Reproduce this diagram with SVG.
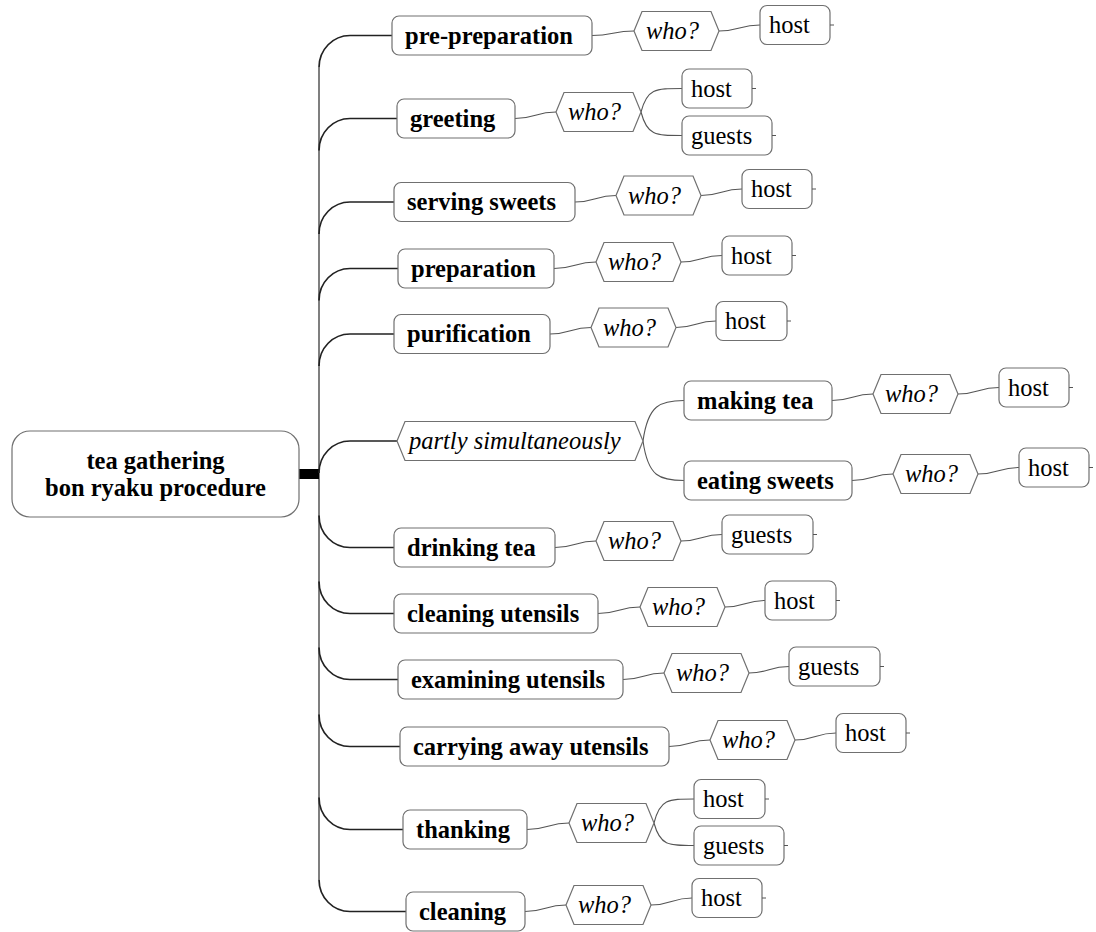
<svg xmlns="http://www.w3.org/2000/svg" width="1096" height="932" viewBox="0 0 1096 932">
  <style>
    .bg { fill: #ffffff; }
    .box { fill: #ffffff; stroke: #707070; stroke-width: 1.2; }
    .hex { fill: #ffffff; stroke: #707070; stroke-width: 1.2; }
    .t { font-family: "Liberation Serif", "Times New Roman", "DejaVu Serif", serif; font-size: 24.5px; fill: #000000; }
    .b { font-weight: bold; }
    .i { font-style: italic; }
    .trunk { fill: none; stroke: #555555; stroke-width: 1.5; }
    .l1 { fill: none; stroke: #222222; stroke-width: 1.7; }
    .l2 { fill: none; stroke: #555555; stroke-width: 1.1; }
    .tick { fill: none; stroke: #555555; stroke-width: 1; }
  </style>
  <rect class="bg" x="0" y="0" width="1096" height="932"/>

  <g id="connectors">
    <!-- trunk from the root -->
    <path class="trunk" d="M319,67.5 V879.5"/>
    <rect x="299" y="469" width="20" height="10" fill="#000"/>
    <!-- root to steps -->
    <path class="l1" d="M319,67.5 C319,49.5 333,35.5 350,35.5 H392"/>
    <path class="l1" d="M319,150.5 C319,132.5 333,118.5 350,118.5 H397"/>
    <path class="l1" d="M319,234 C319,216 333,202 350,202 H394"/>
    <path class="l1" d="M319,300.5 C319,282.5 333,268.5 350,268.5 H398"/>
    <path class="l1" d="M319,366 C319,348 333,334 350,334 H394"/>
    <path class="l1" d="M319,473 C319,455 333,441 350,441 H397"/>
    <path class="l1" d="M319,515.5 C319,533.5 333,547.5 350,547.5 H394"/>
    <path class="l1" d="M319,581.5 C319,599.5 333,613.5 350,613.5 H394"/>
    <path class="l1" d="M319,647.5 C319,665.5 333,679.5 350,679.5 H398"/>
    <path class="l1" d="M319,714.5 C319,732.5 333,746.5 350,746.5 H400"/>
    <path class="l1" d="M319,797.5 C319,815.5 333,829.5 350,829.5 H403"/>
    <path class="l1" d="M319,879.5 C319,897.5 333,911.5 350,911.5 H406"/>

    <!-- steps to who? and who? to actors -->
    <path class="l2" d="M592,35.5 C613,35.5 613,31 634,31"/>
    <path class="l2" d="M719,31 C739.5,31 739.5,25 760,25"/>

    <path class="l2" d="M515,118.5 C535.5,118.5 535.5,112 556,112"/>
    <path class="l2" d="M641,112 C647,88.5 655,88.5 682,88.5"/>
    <path class="l2" d="M641,112 C647,135.5 655,135.5 682,135.5"/>

    <path class="l2" d="M575,202 C595.5,202 595.5,195.5 616,195.5"/>
    <path class="l2" d="M701,195.5 C721.5,195.5 721.5,189 742,189"/>

    <path class="l2" d="M554,268.5 C575,268.5 575,262 596,262"/>
    <path class="l2" d="M681,262 C701.5,262 701.5,255.5 722,255.5"/>

    <path class="l2" d="M550,334 C570.5,334 570.5,327.5 591,327.5"/>
    <path class="l2" d="M676,327.5 C696,327.5 696,321 716,321"/>

    <path class="l2" d="M643,441 C648,405 660,400.5 684,400.5"/>
    <path class="l2" d="M643,441 C648,477 660,480.5 684,480.5"/>

    <path class="l2" d="M832,400.5 C852.5,400.5 852.5,394 873,394"/>
    <path class="l2" d="M958,394 C978.5,394 978.5,387.5 999,387.5"/>

    <path class="l2" d="M852,480.5 C872.5,480.5 872.5,474 893,474"/>
    <path class="l2" d="M978,474 C998.5,474 998.5,467.5 1019,467.5"/>

    <path class="l2" d="M555,547.5 C575.5,547.5 575.5,541 596,541"/>
    <path class="l2" d="M681,541 C701.5,541 701.5,534.5 722,534.5"/>

    <path class="l2" d="M598,613.5 C619,613.5 619,607 640,607"/>
    <path class="l2" d="M725,607 C745,607 745,600.5 765,600.5"/>

    <path class="l2" d="M623,679.5 C643.5,679.5 643.5,673 664,673"/>
    <path class="l2" d="M749,673 C769,673 769,666.5 789,666.5"/>

    <path class="l2" d="M669,746.5 C689.5,746.5 689.5,740 710,740"/>
    <path class="l2" d="M795,740 C815.5,740 815.5,733 836,733"/>

    <path class="l2" d="M527,829.5 C548,829.5 548,823 569,823"/>
    <path class="l2" d="M654,823 C660,799 668,799 694,799"/>
    <path class="l2" d="M654,823 C660,845.5 668,845.5 694,845.5"/>

    <path class="l2" d="M525,911.5 C545.5,911.5 545.5,905 566,905"/>
    <path class="l2" d="M651,905 C671.5,905 671.5,898 692,898"/>
  </g>

  <!-- root -->
  <g id="root">
    <rect class="box" x="12" y="431" width="287" height="86" rx="18"/>
    <text class="t b" x="155.5" y="469" text-anchor="middle">tea gathering</text>
    <text class="t b" x="155.5" y="496" text-anchor="middle">bon ryaku procedure</text>
  </g>

  <!-- 1 -->
  <g id="step-pre-preparation">
    <rect class="box" x="392" y="16" width="200" height="39" rx="7"/>
    <text class="t b" x="405" y="43.5">pre-preparation</text>
  </g>
  <g id="who-1">
    <polygon class="hex" points="634,31 642,11.5 711,11.5 719,31 711,50.5 642,50.5"/>
    <text class="t i" x="646" y="39">who?</text>
  </g>
  <g id="actor-1">
    <rect class="box" x="760" y="5.5" width="70" height="39" rx="7"/>
    <text class="t" x="769" y="33">host</text>
    <path class="tick" d="M830,25 H834"/>
  </g>

  <!-- 2 -->
  <g id="step-greeting">
    <rect class="box" x="397" y="99" width="118" height="39" rx="7"/>
    <text class="t b" x="410" y="126.5">greeting</text>
  </g>
  <g id="who-2">
    <polygon class="hex" points="556,112 564,92.5 633,92.5 641,112 633,131.5 564,131.5"/>
    <text class="t i" x="568" y="120">who?</text>
  </g>
  <g id="actor-2a">
    <rect class="box" x="682" y="69" width="70" height="39" rx="7"/>
    <text class="t" x="691" y="96.5">host</text>
    <path class="tick" d="M752,88.5 H756"/>
  </g>
  <g id="actor-2b">
    <rect class="box" x="682" y="116" width="90" height="39" rx="7"/>
    <text class="t" x="691" y="143.5">guests</text>
    <path class="tick" d="M772,135.5 H776"/>
  </g>

  <!-- 3 -->
  <g id="step-serving-sweets">
    <rect class="box" x="394" y="182.5" width="181" height="39" rx="7"/>
    <text class="t b" x="407" y="210">serving sweets</text>
  </g>
  <g id="who-3">
    <polygon class="hex" points="616,195.5 624,176 693,176 701,195.5 693,215 624,215"/>
    <text class="t i" x="628" y="203.5">who?</text>
  </g>
  <g id="actor-3">
    <rect class="box" x="742" y="169.5" width="70" height="39" rx="7"/>
    <text class="t" x="751" y="197">host</text>
    <path class="tick" d="M812,189 H816"/>
  </g>

  <!-- 4 -->
  <g id="step-preparation">
    <rect class="box" x="398" y="249" width="156" height="39" rx="7"/>
    <text class="t b" x="411" y="276.5">preparation</text>
  </g>
  <g id="who-4">
    <polygon class="hex" points="596,262 604,242.5 673,242.5 681,262 673,281.5 604,281.5"/>
    <text class="t i" x="608" y="270">who?</text>
  </g>
  <g id="actor-4">
    <rect class="box" x="722" y="236" width="70" height="39" rx="7"/>
    <text class="t" x="731" y="263.5">host</text>
    <path class="tick" d="M792,255.5 H796"/>
  </g>

  <!-- 5 -->
  <g id="step-purification">
    <rect class="box" x="394" y="314.5" width="156" height="39" rx="7"/>
    <text class="t b" x="407" y="342">purification</text>
  </g>
  <g id="who-5">
    <polygon class="hex" points="591,327.5 599,308 668,308 676,327.5 668,347 599,347"/>
    <text class="t i" x="603" y="335.5">who?</text>
  </g>
  <g id="actor-5">
    <rect class="box" x="716" y="301.5" width="71" height="39" rx="7"/>
    <text class="t" x="725" y="329">host</text>
    <path class="tick" d="M787,321 H791"/>
  </g>

  <!-- 6 -->
  <g id="step-partly-simultaneously">
    <polygon class="hex" points="397,441 405,421.5 635,421.5 643,441 635,460.5 405,460.5"/>
    <text class="t i" x="409" y="449">partly simultaneously</text>
  </g>
  <g id="step-making-tea">
    <rect class="box" x="684" y="381" width="148" height="39" rx="7"/>
    <text class="t b" x="697" y="408.5">making tea</text>
  </g>
  <g id="who-6a">
    <polygon class="hex" points="873,394 881,374.5 950,374.5 958,394 950,413.5 881,413.5"/>
    <text class="t i" x="885" y="402">who?</text>
  </g>
  <g id="actor-6a">
    <rect class="box" x="999" y="368" width="70" height="39" rx="7"/>
    <text class="t" x="1008" y="395.5">host</text>
    <path class="tick" d="M1069,387.5 H1073"/>
  </g>
  <g id="step-eating-sweets">
    <rect class="box" x="684" y="461" width="168" height="39" rx="7"/>
    <text class="t b" x="697" y="488.5">eating sweets</text>
  </g>
  <g id="who-6b">
    <polygon class="hex" points="893,474 901,454.5 970,454.5 978,474 970,493.5 901,493.5"/>
    <text class="t i" x="905" y="482">who?</text>
  </g>
  <g id="actor-6b">
    <rect class="box" x="1019" y="448" width="70" height="39" rx="7"/>
    <text class="t" x="1028" y="475.5">host</text>
    <path class="tick" d="M1089,467.5 H1093"/>
  </g>

  <!-- 7 -->
  <g id="step-drinking-tea">
    <rect class="box" x="394" y="528" width="161" height="39" rx="7"/>
    <text class="t b" x="407" y="555.5">drinking tea</text>
  </g>
  <g id="who-7">
    <polygon class="hex" points="596,541 604,521.5 673,521.5 681,541 673,560.5 604,560.5"/>
    <text class="t i" x="608" y="549">who?</text>
  </g>
  <g id="actor-7">
    <rect class="box" x="722" y="515" width="91" height="39" rx="7"/>
    <text class="t" x="731" y="542.5">guests</text>
    <path class="tick" d="M813,534.5 H817"/>
  </g>

  <!-- 8 -->
  <g id="step-cleaning-utensils">
    <rect class="box" x="394" y="594" width="204" height="39" rx="7"/>
    <text class="t b" x="407" y="621.5">cleaning utensils</text>
  </g>
  <g id="who-8">
    <polygon class="hex" points="640,607 648,587.5 717,587.5 725,607 717,626.5 648,626.5"/>
    <text class="t i" x="652" y="615">who?</text>
  </g>
  <g id="actor-8">
    <rect class="box" x="765" y="581" width="71" height="39" rx="7"/>
    <text class="t" x="774" y="608.5">host</text>
    <path class="tick" d="M836,600.5 H840"/>
  </g>

  <!-- 9 -->
  <g id="step-examining-utensils">
    <rect class="box" x="398" y="660" width="225" height="39" rx="7"/>
    <text class="t b" x="411" y="687.5">examining utensils</text>
  </g>
  <g id="who-9">
    <polygon class="hex" points="664,673 672,653.5 741,653.5 749,673 741,692.5 672,692.5"/>
    <text class="t i" x="676" y="681">who?</text>
  </g>
  <g id="actor-9">
    <rect class="box" x="789" y="647" width="91" height="39" rx="7"/>
    <text class="t" x="798" y="674.5">guests</text>
    <path class="tick" d="M880,666.5 H884"/>
  </g>

  <!-- 10 -->
  <g id="step-carrying-away-utensils">
    <rect class="box" x="400" y="727" width="269" height="39" rx="7"/>
    <text class="t b" x="413" y="754.5">carrying away utensils</text>
  </g>
  <g id="who-10">
    <polygon class="hex" points="710,740 718,720.5 787,720.5 795,740 787,759.5 718,759.5"/>
    <text class="t i" x="722" y="748">who?</text>
  </g>
  <g id="actor-10">
    <rect class="box" x="836" y="713.5" width="70" height="39" rx="7"/>
    <text class="t" x="845" y="741">host</text>
    <path class="tick" d="M906,733 H910"/>
  </g>

  <!-- 11 -->
  <g id="step-thanking">
    <rect class="box" x="403" y="810" width="124" height="39" rx="7"/>
    <text class="t b" x="416" y="837.5">thanking</text>
  </g>
  <g id="who-11">
    <polygon class="hex" points="569,823 577,803.5 646,803.5 654,823 646,842.5 577,842.5"/>
    <text class="t i" x="581" y="831">who?</text>
  </g>
  <g id="actor-11a">
    <rect class="box" x="694" y="779.5" width="71" height="39" rx="7"/>
    <text class="t" x="703" y="807">host</text>
    <path class="tick" d="M765,799 H769"/>
  </g>
  <g id="actor-11b">
    <rect class="box" x="694" y="826" width="90" height="39" rx="7"/>
    <text class="t" x="703" y="853.5">guests</text>
    <path class="tick" d="M784,845.5 H788"/>
  </g>

  <!-- 12 -->
  <g id="step-cleaning">
    <rect class="box" x="406" y="892" width="119" height="39" rx="7"/>
    <text class="t b" x="419" y="919.5">cleaning</text>
  </g>
  <g id="who-12">
    <polygon class="hex" points="566,905 574,885.5 643,885.5 651,905 643,924.5 574,924.5"/>
    <text class="t i" x="578" y="913">who?</text>
  </g>
  <g id="actor-12">
    <rect class="box" x="692" y="878.5" width="70" height="39" rx="7"/>
    <text class="t" x="701" y="906">host</text>
    <path class="tick" d="M762,898 H766"/>
  </g>
</svg>
